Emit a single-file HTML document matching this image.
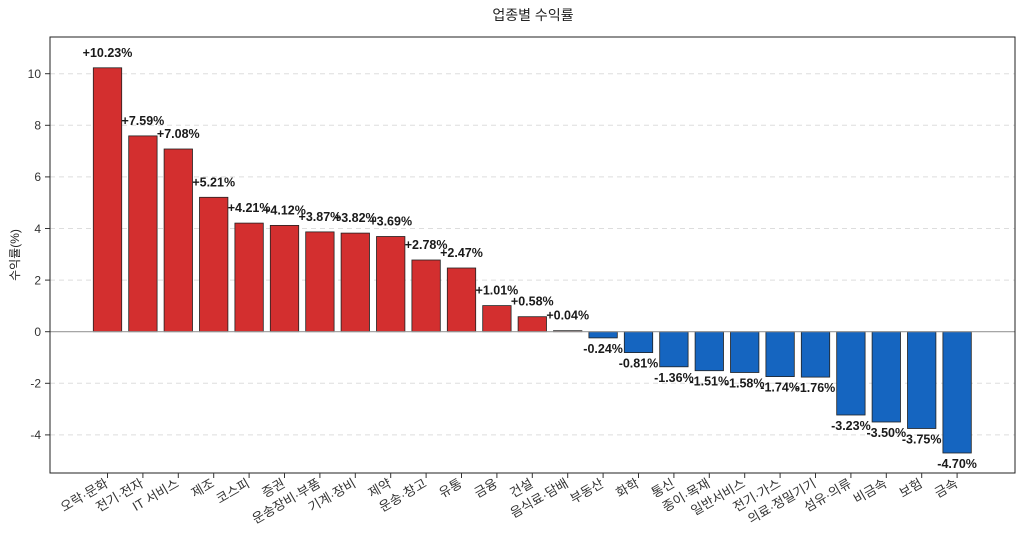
<!DOCTYPE html>
<html><head><meta charset="utf-8"><style>body{margin:0;background:#fff}svg{display:block}</style></head><body>
<svg width="1024" height="542" xmlns="http://www.w3.org/2000/svg" font-family="'Liberation Sans','Noto Sans CJK KR',sans-serif">
<rect width="1024" height="542" fill="#fff"/>
<text x="533" y="20" font-size="14" text-anchor="middle" fill="#222">업종별 수익률</text>
<text transform="translate(19,255) rotate(-90)" font-size="12" text-anchor="middle" fill="#222">수익률(%)</text>
<g stroke="#ddd" stroke-dasharray="5,4" stroke-width="1">
<line x1="50" x2="1015" y1="434.9" y2="434.9"/><line x1="50" x2="1015" y1="383.3" y2="383.3"/>
<line x1="50" x2="1015" y1="280.1" y2="280.1"/><line x1="50" x2="1015" y1="228.5" y2="228.5"/>
<line x1="50" x2="1015" y1="176.9" y2="176.9"/><line x1="50" x2="1015" y1="125.3" y2="125.3"/>
<line x1="50" x2="1015" y1="73.7" y2="73.7"/>
</g>
<g font-size="12" fill="#333" text-anchor="end">
<text x="41" y="439">-4</text><text x="41" y="387.5">-2</text><text x="41" y="336">0</text>
<text x="41" y="284.5">2</text><text x="41" y="233">4</text><text x="41" y="181">6</text>
<text x="41" y="129.5">8</text><text x="41" y="78">10</text>
</g>
<g stroke="#333"><line x1="45" x2="50" y1="434.9" y2="434.9"/><line x1="45" x2="50" y1="383.3" y2="383.3"/><line x1="45" x2="50" y1="331.7" y2="331.7"/><line x1="45" x2="50" y1="280.1" y2="280.1"/><line x1="45" x2="50" y1="228.5" y2="228.5"/><line x1="45" x2="50" y1="176.9" y2="176.9"/><line x1="45" x2="50" y1="125.3" y2="125.3"/><line x1="45" x2="50" y1="73.7" y2="73.7"/></g>
<g fill="#d32f2f" stroke="#222" stroke-width="0.8">
<rect x="93.3" y="67.8" width="28.4" height="263.9"/>
<rect x="128.7" y="135.9" width="28.4" height="195.8"/>
<rect x="164.1" y="149.0" width="28.4" height="182.7"/>
<rect x="199.5" y="197.3" width="28.4" height="134.4"/>
<rect x="234.9" y="223.1" width="28.4" height="108.6"/>
<rect x="270.3" y="225.4" width="28.4" height="106.3"/>
<rect x="305.7" y="231.9" width="28.4" height="99.8"/>
<rect x="341.1" y="233.1" width="28.4" height="98.6"/>
<rect x="376.5" y="236.5" width="28.4" height="95.2"/>
<rect x="411.9" y="260.0" width="28.4" height="71.7"/>
<rect x="447.3" y="268.0" width="28.4" height="63.7"/>
<rect x="482.7" y="305.6" width="28.4" height="26.1"/>
<rect x="518.1" y="316.7" width="28.4" height="15.0"/>
<rect x="553.5" y="330.7" width="28.4" height="1.0"/>
</g>
<g fill="#1565c0" stroke="#222" stroke-width="0.8">
<rect x="588.9" y="331.7" width="28.4" height="6.2"/>
<rect x="624.3" y="331.7" width="28.4" height="20.9"/>
<rect x="659.7" y="331.7" width="28.4" height="35.1"/>
<rect x="695.1" y="331.7" width="28.4" height="39.0"/>
<rect x="730.5" y="331.7" width="28.4" height="40.8"/>
<rect x="765.9" y="331.7" width="28.4" height="44.9"/>
<rect x="801.3" y="331.7" width="28.4" height="45.4"/>
<rect x="836.7" y="331.7" width="28.4" height="83.3"/>
<rect x="872.1" y="331.7" width="28.4" height="90.3"/>
<rect x="907.5" y="331.7" width="28.4" height="96.8"/>
<rect x="942.9" y="331.7" width="28.4" height="121.3"/>
</g>
<line x1="50" x2="1015" y1="331.7" y2="331.7" stroke="#999" stroke-width="1.2"/>
<rect x="50" y="37" width="965" height="436" fill="none" stroke="#222" stroke-width="1"/>
<g font-size="12.5" font-weight="bold" fill="#1a1a1a" text-anchor="middle">
<text x="107.5" y="56.8">+10.23%</text>
<text x="142.9" y="124.9">+7.59%</text>
<text x="178.3" y="138">+7.08%</text>
<text x="213.7" y="186.3">+5.21%</text>
<text x="249.1" y="212.1">+4.21%</text>
<text x="284.5" y="214.4">+4.12%</text>
<text x="319.9" y="220.9">+3.87%</text>
<text x="355.3" y="222.1">+3.82%</text>
<text x="390.7" y="225.5">+3.69%</text>
<text x="426.1" y="249">+2.78%</text>
<text x="461.5" y="257">+2.47%</text>
<text x="496.9" y="294.6">+1.01%</text>
<text x="532.3" y="305.7">+0.58%</text>
<text x="567.7" y="319.7">+0.04%</text>
<text x="603.1" y="352.9">-0.24%</text>
<text x="638.5" y="367.6">-0.81%</text>
<text x="673.9" y="381.8">-1.36%</text>
<text x="709.3" y="385.7">-1.51%</text>
<text x="744.7" y="387.5">-1.58%</text>
<text x="780.1" y="391.6">-1.74%</text>
<text x="815.5" y="392.1">-1.76%</text>
<text x="850.9" y="430">-3.23%</text>
<text x="886.3" y="437">-3.50%</text>
<text x="921.7" y="443.5">-3.75%</text>
<text x="957.1" y="468">-4.70%</text>
</g>
<g stroke="#333">
<line x1="107.5" x2="107.5" y1="473" y2="478"/><line x1="142.9" x2="142.9" y1="473" y2="478"/><line x1="178.3" x2="178.3" y1="473" y2="478"/><line x1="213.7" x2="213.7" y1="473" y2="478"/><line x1="249.1" x2="249.1" y1="473" y2="478"/><line x1="284.5" x2="284.5" y1="473" y2="478"/><line x1="319.9" x2="319.9" y1="473" y2="478"/><line x1="355.3" x2="355.3" y1="473" y2="478"/><line x1="390.7" x2="390.7" y1="473" y2="478"/><line x1="426.1" x2="426.1" y1="473" y2="478"/><line x1="461.5" x2="461.5" y1="473" y2="478"/><line x1="496.9" x2="496.9" y1="473" y2="478"/><line x1="532.3" x2="532.3" y1="473" y2="478"/><line x1="567.7" x2="567.7" y1="473" y2="478"/><line x1="603.1" x2="603.1" y1="473" y2="478"/><line x1="638.5" x2="638.5" y1="473" y2="478"/><line x1="673.9" x2="673.9" y1="473" y2="478"/><line x1="709.3" x2="709.3" y1="473" y2="478"/><line x1="744.7" x2="744.7" y1="473" y2="478"/><line x1="780.1" x2="780.1" y1="473" y2="478"/><line x1="815.5" x2="815.5" y1="473" y2="478"/><line x1="850.9" x2="850.9" y1="473" y2="478"/><line x1="886.3" x2="886.3" y1="473" y2="478"/><line x1="921.7" x2="921.7" y1="473" y2="478"/><line x1="957.1" x2="957.1" y1="473" y2="478"/>
</g>
<g font-size="13" fill="#333" text-anchor="end">
<text transform="translate(109,486) rotate(-30)">오락·문화</text>
<text transform="translate(144.4,486) rotate(-30)">전기·전자</text>
<text transform="translate(179.8,486) rotate(-30)">IT 서비스</text>
<text transform="translate(215.2,486) rotate(-30)">제조</text>
<text transform="translate(250.6,486) rotate(-30)">코스피</text>
<text transform="translate(286,486) rotate(-30)">증권</text>
<text transform="translate(321.4,486) rotate(-30)">운송장비·부품</text>
<text transform="translate(356.8,486) rotate(-30)">기계·장비</text>
<text transform="translate(392.2,486) rotate(-30)">제약</text>
<text transform="translate(427.6,486) rotate(-30)">운송·창고</text>
<text transform="translate(463,486) rotate(-30)">유통</text>
<text transform="translate(498.4,486) rotate(-30)">금융</text>
<text transform="translate(533.8,486) rotate(-30)">건설</text>
<text transform="translate(569.2,486) rotate(-30)">음식료·담배</text>
<text transform="translate(604.6,486) rotate(-30)">부동산</text>
<text transform="translate(640,486) rotate(-30)">화학</text>
<text transform="translate(675.4,486) rotate(-30)">통신</text>
<text transform="translate(710.8,486) rotate(-30)">종이·목재</text>
<text transform="translate(746.2,486) rotate(-30)">일반서비스</text>
<text transform="translate(781.6,486) rotate(-30)">전기·가스</text>
<text transform="translate(817,486) rotate(-30)">의료·정밀기기</text>
<text transform="translate(852.4,486) rotate(-30)">섬유·의류</text>
<text transform="translate(887.8,486) rotate(-30)">비금속</text>
<text transform="translate(923.2,486) rotate(-30)">보험</text>
<text transform="translate(958.6,486) rotate(-30)">금속</text>
</g>
</svg>
</body></html>
